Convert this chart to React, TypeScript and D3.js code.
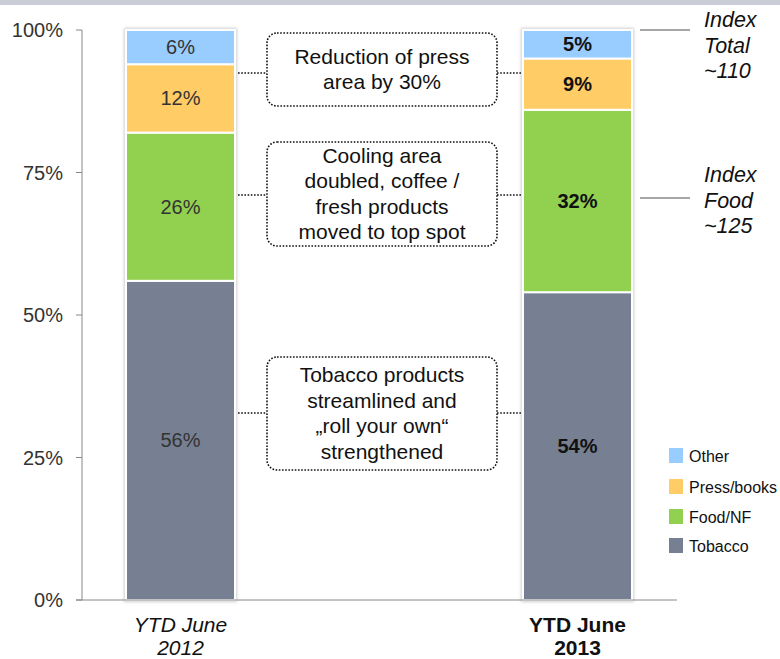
import React from "react";
import * as d3 from "d3";

const categories = ["YTD June 2012", "YTD June 2013"];
const categoryLines = [["YTD June", "2012"], ["YTD June", "2013"]];
const seriesNames = ["Tobacco", "Food/NF", "Press/books", "Other"];
const tobacco = [56, 54];
const foodNF = [26, 32];
const pressBooks = [12, 9];
const other = [6, 5];
const yTicks = [0, 0.25, 0.5, 0.75, 1];
const legendOrder = ["Other", "Press/books", "Food/NF", "Tobacco"];
const colors: Record<string, string> = {
  Tobacco: "#768092",
  "Food/NF": "#92d050",
  "Press/books": "#ffcc66",
  Other: "#99ccff",
};
const notes = [
  { lines: ["Reduction of press", "area by 30%"], top: 33, bottom: 106, link: 73 },
  { lines: ["Cooling area", "doubled, coffee /", "fresh products", "moved to top spot"], top: 142, bottom: 246, link: 195 },
  { lines: ["Tobacco products", "streamlined and", "\u201Eroll your own\u201C", "strengthened"], top: 357, bottom: 470, link: 413 },
];
const indexNotes = [
  { lines: ["Index", "Total", "~110"], lineY: 30, first: 27 },
  { lines: ["Index", "Food", "~125"], lineY: 198, first: 182 },
];

const FONT = "Arial, 'Liberation Sans', sans-serif";

export default function App() {
  const W = 780, H = 659;
  const table = categories.map((c, i) => ({
    cat: c,
    Tobacco: tobacco[i] / 100,
    "Food/NF": foodNF[i] / 100,
    "Press/books": pressBooks[i] / 100,
    Other: other[i] / 100,
  }));
  const stack = d3.stack<any>().keys(seriesNames)(table);
  const y = d3.scaleLinear().domain([0, 1]).range([600, 30]);
  const x = d3.scaleBand().domain(categories).range([126, 632]).paddingInner(0.7254).paddingOuter(0);
  const bw = x.bandwidth();
  const boxL = 267, boxR = 497;

  return (
    <svg width={W} height={H} style={{ position: "absolute", left: 0, top: 0, background: "#fff" }} fontFamily={FONT}>
      <defs>
        <filter id="sh" x="-20%" y="-5%" width="140%" height="110%">
          <feGaussianBlur stdDeviation="1.6" />
        </filter>
      </defs>
      <rect x={0} y={0} width={W} height={5} fill="#c9ced6" />
      {/* y axis */}
      <line x1={82} x2={82} y1={y(1)} y2={y(0)} stroke="#888" strokeWidth={1} />
      {yTicks.map((t) => (
        <g key={t}>
          <line x1={76} x2={82} y1={y(t)} y2={y(t)} stroke="#888" />
          <text x={63} y={y(t) + 7} textAnchor="end" fontSize={20} fill="#333">
            {d3.format(".0%")(t)}
          </text>
        </g>
      ))}
      {/* bars */}
      {categories.map((c) => (
        <rect key={c} x={(x(c) as number) - 2} y={y(1) - 2} width={bw + 4} height={y(0) - y(1) + 4} fill="#bbb" opacity={0.7} filter="url(#sh)" />
      ))}
      {stack.map((s) =>
        s.map((d, i) => {
          const cx = x(categories[i]) as number;
          return (
            <rect key={s.key + i} x={cx} y={y(d[1])} width={bw} height={y(d[0]) - y(d[1])} fill={colors[s.key]} stroke="#fff" strokeWidth={2} />
          );
        })
      )}
      {stack.map((s) =>
        s.map((d, i) => {
          const cx = (x(categories[i]) as number) + bw / 2;
          return (
            <text key={"t" + s.key + i} x={cx} y={(y(d[0]) + y(d[1])) / 2 + 7} textAnchor="middle" fontSize={20} fill={i === 1 ? "#111" : "#333"} fontWeight={i === 1 ? "bold" : "normal"}>
              {d3.format(".0%")(d[1] - d[0])}
            </text>
          );
        })
      )}
      {/* x axis */}
      <line x1={76} x2={677} y1={y(0)} y2={y(0)} stroke="#888" />
      {categories.map((c, i) => (
        <text key={"x" + c} textAnchor="middle" fontSize={21} fill="#111" fontStyle={i === 0 ? "italic" : "normal"} fontWeight={i === 1 ? "bold" : "normal"}>
          {categoryLines[i].map((l, j) => (
            <tspan key={j} x={(x(c) as number) + bw / 2} y={632 + j * 22.5}>{l}</tspan>
          ))}
        </text>
      ))}
      {/* annotation boxes */}
      {notes.map((n, k) => {
        const b1 = (x(categories[0]) as number) + bw;
        const b2 = x(categories[1]) as number;
        const cy = (n.top + n.bottom) / 2;
        const lh = 25.5;
        const start = cy - ((n.lines.length - 1) * lh) / 2 + 7;
        return (
          <g key={"n" + k}>
            <rect x={boxL} y={n.top} width={boxR - boxL} height={n.bottom - n.top} rx={10} fill="#fff" stroke="#111" strokeWidth={1.6} strokeDasharray="1.6,1.6" />
            <line x1={b1 + 3} x2={boxL} y1={n.link} y2={n.link} stroke="#111" strokeWidth={1.6} strokeDasharray="1.6,1.6" />
            <line x1={boxR} x2={b2 - 2} y1={n.link} y2={n.link} stroke="#111" strokeWidth={1.6} strokeDasharray="1.6,1.6" />
            <text textAnchor="middle" fontSize={21} fill="#111">
              {n.lines.map((l, j) => (
                <tspan key={j} x={(boxL + boxR) / 2} y={start + j * lh}>{l}</tspan>
              ))}
            </text>
          </g>
        );
      })}
      {/* index notes */}
      {indexNotes.map((n, k) => (
        <g key={"i" + k}>
          <line x1={640} x2={690} y1={n.lineY} y2={n.lineY} stroke="#888" strokeWidth={1.5} />
          <text fontSize={21.5} fontStyle="italic" fill="#111">
            {n.lines.map((l, j) => (
              <tspan key={j} x={704} y={n.first + j * 25.5}>{l}</tspan>
            ))}
          </text>
        </g>
      ))}
      {/* legend */}
      {legendOrder.map((k, i) => {
        const ys = [448, 479, 509, 538][i];
        return (
          <g key={"l" + k}>
            <rect x={669} y={ys} width={14} height={15} fill={colors[k]} />
            <text x={689} y={ys + 14} fontSize={16} fill="#111">{k}</text>
          </g>
        );
      })}
    </svg>
  );
}
